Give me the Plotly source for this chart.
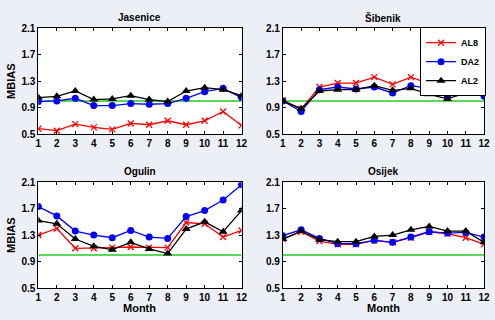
import plotly.graph_objects as go

months = list(range(1, 13))
stations = ["Jasenice", "Šibenik", "Ogulin", "Osijek"]

al8 = {
    "Jasenice": [0.58, 0.55, 0.65, 0.60, 0.57, 0.66, 0.64, 0.70, 0.64, 0.70, 0.84, 0.63],
    "Šibenik": [1.01, 0.88, 1.21, 1.27, 1.27, 1.36, 1.25, 1.36, 1.26, 1.12, 1.28, 1.21],
    "Ogulin": [1.30, 1.40, 1.10, 1.10, 1.11, 1.12, 1.11, 1.11, 1.49, 1.47, 1.27, 1.37],
    "Osijek": [1.24, 1.35, 1.21, 1.16, 1.16, 1.22, 1.19, 1.26, 1.35, 1.32, 1.26, 1.16],
}
da2 = {
    "Jasenice": [0.99, 1.00, 1.04, 0.93, 0.93, 0.96, 0.95, 0.96, 1.04, 1.14, 1.19, 1.05],
    "Šibenik": [1.00, 0.84, 1.17, 1.21, 1.18, 1.21, 1.12, 1.23, 1.19, 1.07, 1.19, 1.07],
    "Ogulin": [1.73, 1.59, 1.36, 1.30, 1.26, 1.37, 1.27, 1.25, 1.58, 1.67, 1.83, 2.06],
    "Osijek": [1.29, 1.38, 1.25, 1.17, 1.17, 1.22, 1.19, 1.27, 1.35, 1.33, 1.34, 1.27],
}
al2 = {
    "Jasenice": [1.05, 1.07, 1.15, 1.02, 1.03, 1.08, 1.02, 0.99, 1.15, 1.20, 1.17, 1.08],
    "Šibenik": [1.00, 0.88, 1.15, 1.17, 1.17, 1.23, 1.16, 1.19, 1.10, 1.03, 1.12, 1.12],
    "Ogulin": [1.52, 1.47, 1.24, 1.13, 1.08, 1.19, 1.09, 1.02, 1.39, 1.50, 1.35, 1.67],
    "Osijek": [1.24, 1.36, 1.23, 1.20, 1.20, 1.28, 1.30, 1.38, 1.43, 1.36, 1.36, 1.19],
}
reference_line = 1.0
y_ticks = [0.5, 0.9, 1.3, 1.7, 2.1]

W, H = 495, 320
# panel pixel boxes (left, right, top, bottom)
boxes = [(36, 243, 23, 133), (285, 490, 23, 133), (36, 243, 183, 293), (285, 490, 183, 293)]

fig = go.Figure()
font_family = "Liberation Sans, Arial, sans-serif"

for i, st in enumerate(stations):
    n = "" if i == 0 else str(i + 1)
    xa, ya = "x" + n, "y" + n
    showleg = (i == 1)
    fig.add_trace(go.Scatter(x=[1, 12], y=[reference_line] * 2, mode="lines",
                             line=dict(color="#22CC22", width=1.5), showlegend=False,
                             xaxis=xa, yaxis=ya, hoverinfo="skip"))
    fig.add_trace(go.Scatter(x=months, y=al8[st], mode="lines+markers", name="AL8",
                             line=dict(color="#FF0000", width=1.3),
                             marker=dict(symbol="x-thin", size=6, color="#FF0000",
                                         line=dict(color="#FF0000", width=1.3)),
                             showlegend=showleg, xaxis=xa, yaxis=ya))
    fig.add_trace(go.Scatter(x=months, y=da2[st], mode="lines+markers", name="DA2",
                             line=dict(color="#0000FF", width=1.3),
                             marker=dict(symbol="circle", size=7, color="#0000FF"),
                             showlegend=showleg, xaxis=xa, yaxis=ya))
    fig.add_trace(go.Scatter(x=months, y=al2[st], mode="lines+markers", name="AL2",
                             line=dict(color="#000000", width=1.3),
                             marker=dict(symbol="triangle-up", size=8, color="#000000"),
                             showlegend=showleg, xaxis=xa, yaxis=ya))

    l, r, t, b = boxes[i]
    axcommon = dict(showgrid=False, zeroline=False, showline=True, linecolor="black",
                    linewidth=1, mirror="ticks", ticks="inside", ticklen=3,
                    tickcolor="black", tickfont=dict(family=font_family, size=10,
                                                     color="black", weight="bold"))
    fig.layout["xaxis" + n] = dict(domain=[l / W, r / W], range=[1, 12], tickvals=months,
                                   anchor=ya, ticklabelstandoff=0, **axcommon)
    fig.layout["yaxis" + n] = dict(domain=[1 - b / H, 1 - t / H], range=[0.5, 2.1],
                                   tickvals=y_ticks, ticktext=[f"{v:.1f}" for v in y_ticks],
                                   anchor=xa, ticklabelstandoff=0, **axcommon)
    fig.add_annotation(text=f"<b>{st}</b>", x=(l + r) / 2 / W, y=1 - (t - 11) / H,
                       xref="paper", yref="paper", showarrow=False,
                       font=dict(family=font_family, size=10, color="black"),
                       xanchor="center", yanchor="middle")
    if i in (0, 2):
        fig.add_annotation(text="<b>MBIAS</b>", x=8 / W, y=1 - (t + b) / 2 / H,
                           xref="paper", yref="paper", showarrow=False, textangle=-90,
                           font=dict(family=font_family, size=11, color="black"),
                           xanchor="center", yanchor="middle")
    if i in (2, 3):
        fig.add_annotation(text="<b>Month</b>", x=(l + r) / 2 / W, y=1 - 313.5 / H,
                           xref="paper", yref="paper", showarrow=False,
                           font=dict(family=font_family, size=11, color="black"),
                           xanchor="center", yanchor="middle")

fig.update_layout(
    width=W, height=H, margin=dict(l=0, r=0, t=0, b=0),
    paper_bgcolor="#EDEFF6", plot_bgcolor="white",
    legend=dict(x=492 / W, y=1 - 22 / H, xanchor="right", yanchor="top",
                bgcolor="white", bordercolor="black", borderwidth=1,
                font=dict(family=font_family, size=9, color="black", weight="bold"),
                tracegroupgap=0, itemwidth=30),
)

fig.write_html("out.html", config={"displayModeBar": False},
               post_script="document.body.style.margin='0';document.body.style.overflow='hidden';")
